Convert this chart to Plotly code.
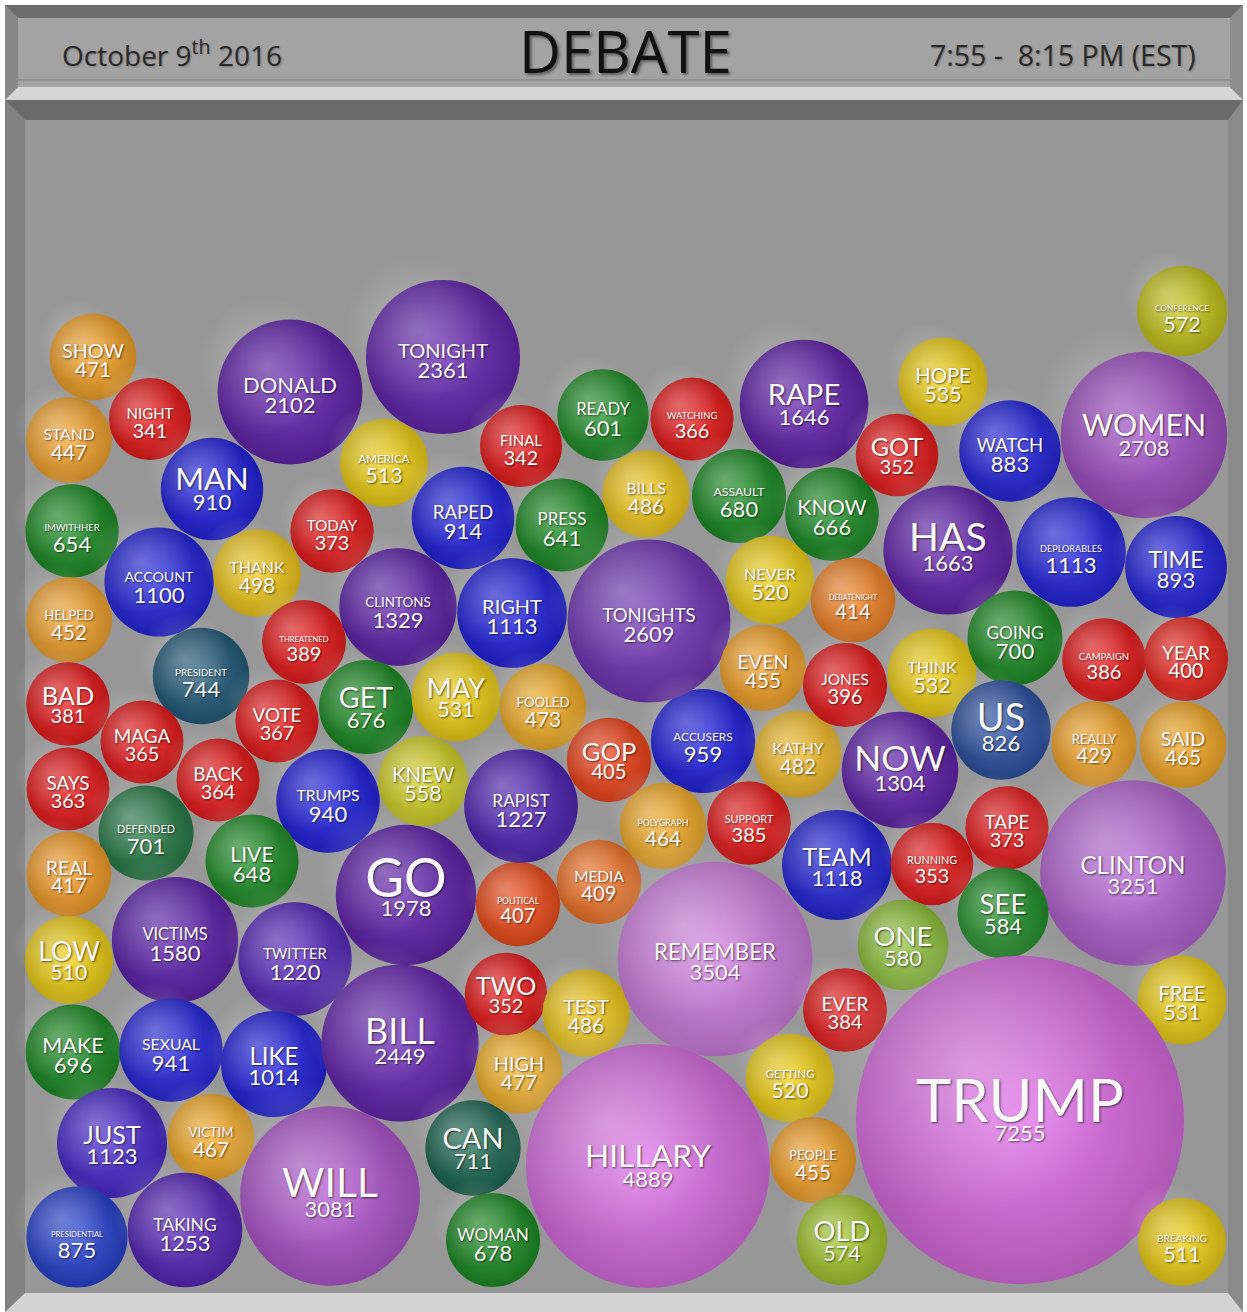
import plotly.graph_objects as go

# ---------------- data ----------------
words = ["SHOW", "STAND", "NIGHT", "IMWITHHER", "MAN", "DONALD", "TONIGHT", "AMERICA", "ACCOUNT", "THANK",
         "TODAY", "HELPED", "CLINTONS", "THREATENED", "PRESIDENT", "BAD", "MAGA", "VOTE", "GET", "SAYS",
         "BACK", "TRUMPS", "DEFENDED", "REAL", "LIVE", "VICTIMS", "TWITTER", "LOW", "GO", "KNEW",
         "MAY", "MAKE", "SEXUAL", "LIKE", "BILL", "JUST", "VICTIM", "WILL", "PRESIDENTIAL", "TAKING",
         "CAN", "WOMAN", "HIGH", "TWO", "TEST", "POLITICAL", "MEDIA", "RAPIST", "GOP", "FOOLED",
         "ACCUSERS", "POLYGRAPH", "SUPPORT", "KATHY", "REMEMBER", "TEAM", "EVER", "TONIGHTS", "RIGHT", "RAPED",
         "PRESS", "FINAL", "READY", "WATCHING", "BILLS", "ASSAULT", "NEVER", "EVEN", "RAPE", "KNOW",
         "GOT", "HOPE", "WATCH", "WOMEN", "CONFERENCE", "HAS", "DEPLORABLES", "TIME", "DEBATENIGHT", "JONES",
         "THINK", "GOING", "CAMPAIGN", "YEAR", "US", "REALLY", "SAID", "NOW", "TAPE", "RUNNING",
         "CLINTON", "SEE", "ONE", "FREE", "TRUMP", "GETTING", "PEOPLE", "OLD", "BREAKING", "HILLARY"]
counts = [471, 447, 341, 654, 910, 2102, 2361, 513, 1100, 498,
          373, 452, 1329, 389, 744, 381, 365, 367, 676, 363,
          364, 940, 701, 417, 648, 1580, 1220, 510, 1978, 558,
          531, 696, 941, 1014, 2449, 1123, 467, 3081, 875, 1253,
          711, 678, 477, 352, 486, 407, 409, 1227, 405, 473,
          959, 464, 385, 482, 3504, 1118, 384, 2609, 1113, 914,
          641, 342, 601, 366, 486, 680, 520, 455, 1646, 666,
          352, 535, 883, 2708, 572, 1663, 1113, 893, 414, 396,
          532, 700, 386, 400, 826, 429, 465, 1304, 373, 353,
          3251, 584, 580, 531, 7255, 520, 455, 574, 511, 4889]

# ---------------- layout of the packed bubbles (centres, px) ----------------
cx = [93, 69, 150, 72, 212, 290, 443, 384, 159, 257,
      332, 69, 398, 304, 201, 68, 142, 277, 366, 68,
      218, 328, 146, 69, 252, 175, 295, 69, 406, 423,
      456, 73, 171, 274, 400, 112, 211, 330, 77, 185,
      473, 493, 519, 506, 586, 518, 599, 521, 609, 543,
      703, 663, 749, 798, 715, 837, 845, 649, 512, 463,
      562, 521, 603, 692, 646, 739, 770, 763, 804, 832,
      897, 943, 1010, 1144, 1182, 948, 1071, 1176, 853, 845,
      932, 1015, 1104, 1186, 1001, 1094, 1183, 900, 1007, 932,
      1133, 1003, 903, 1182, 1020, 790, 813, 842, 1182, 648]
cy = [357, 440, 419, 531, 489, 392, 357, 463, 582, 573,
      531, 620, 607, 642, 676, 704, 742, 721, 707, 789,
      780, 801, 833, 874, 861, 940, 959, 960, 895, 781,
      697, 1052, 1050, 1064, 1043, 1143, 1137, 1196, 1237, 1230,
      1148, 1240, 1070, 994, 1013, 904, 882, 806, 760, 707,
      741, 826, 823, 754, 959, 865, 1010, 621, 613, 518,
      525, 446, 415, 419, 494, 496, 580, 668, 404, 514,
      455, 382, 451, 435, 311, 550, 552, 567, 600, 685,
      673, 638, 660, 659, 730, 744, 745, 770, 828, 864,
      873, 913, 945, 1000, 1120, 1078, 1160, 1240, 1242, 1166]

# ---------------- styles ----------------
colors = ["#f7a62a", "#f7a832", "#ec1e1e", "#1f8f26", "#2424e2", "#6425b0", "#6628b2", "#f4d418", "#2828e0", "#f5cc20",
          "#ec1e1e", "#f7a832", "#6226ae", "#ec1e1e", "#255e7e", "#ec1e1e", "#ec1e1e", "#ec1e1e", "#1f8f26", "#ec1e1e",
          "#ec1e1e", "#2424e2", "#2a7f4a", "#f7a02c", "#22922a", "#6025b0", "#5a2cc0", "#f4d418", "#6425b0", "#d8d62a",
          "#f4d418", "#1f8f26", "#2a2ae2", "#2424e2", "#6828b4", "#4a2cd0", "#f7ae2a", "#b45ad2", "#2a45d2", "#5a28bc",
          "#1f6b55", "#1f8f26", "#f7b52a", "#ec1e1e", "#f5cc1e", "#f2501e", "#f5772a", "#5228b8", "#f2461e", "#f7b22c",
          "#2424e2", "#f7b02c", "#ec1e1e", "#f6bf2e", "#d382e4", "#2828de", "#ec1e1e", "#7538ba", "#2424e2", "#2424e2",
          "#1f8f26", "#ec1e1e", "#22922a", "#ec1e1e", "#f5cc1e", "#1f8f26", "#f5d41a", "#f7a52a", "#6425b0", "#1f8f26",
          "#ec1e1e", "#f4d418", "#2626e0", "#a452c8", "#cac81e", "#6425b0", "#2626e2", "#2626e2", "#f5862a", "#ec1e1e",
          "#f5d41a", "#1f8f26", "#ec1e1e", "#f02a22", "#2f55a5", "#f7a82a", "#f7ac2a", "#6425b0", "#ec1e1e", "#ec1e1e",
          "#b868d8", "#22922a", "#8fc33a", "#f4d418", "#e070e8", "#f5d41a", "#f7a42a", "#a7cb32", "#f4d418", "#de72e8"]


def hex_rgb(h):
    h = h.lstrip("#")
    return tuple(int(h[i:i + 2], 16) for i in (0, 2, 4))


def mix(h, target, t):
    r, g, b = hex_rgb(h)
    tr, tg, tb = target
    return "rgb(%d,%d,%d)" % (round(r + (tr - r) * t), round(g + (tg - g) * t), round(b + (tb - b) * t))


edge_cols = [mix(c, (0, 0, 0), 0.22) for c in colors]
center_cols = [mix(c, (255, 255, 255), 0.12) for c in colors]

# bubble diameter from count (linear radius scale)
diam = [2 * (35 + 0.0178 * c) for c in counts]
rad = [d / 2 for d in diam]

fig = go.Figure()

# bubbles
fig.add_trace(go.Scatter(
    x=cx, y=cy, mode="markers", hoverinfo="skip",
    marker=dict(size=diam, sizemode="diameter", color=edge_cols, opacity=1,
                line=dict(width=0),
                gradient=dict(type="radial", color=center_cols)),
))

# highlight sheen (top-left)
hx = [x - 0.33 * r for x, r in zip(cx, rad)]
hy = [y - 0.36 * r for y, r in zip(cy, rad)]
fig.add_trace(go.Scatter(
    x=hx, y=hy, mode="markers", hoverinfo="skip",
    marker=dict(size=[0.95 * d for d in diam], color="rgba(255,255,255,0)",
                line=dict(width=0),
                gradient=dict(type="radial", color="rgba(255,255,255,0.42)")),
))

# labels
wfont, nfont, wy, ny = [], [], [], []
for w, d, y in zip(words, diam, cy):
    wf = min(0.38 * d, 0.62 * d / (0.68 * len(w)))
    nf = min(22.0, 0.24 * d)
    wfont.append(wf)
    nfont.append(nf)
    wy.append(y - 0.22 * wf)
    ny.append(y + 0.7 * nf)

shadow = "1px 1px 2px rgba(0,0,0,0.6)"
fig.add_trace(go.Scatter(
    x=cx, y=wy, mode="text", text=words, hoverinfo="skip",
    textposition="middle center",
    textfont=dict(family="Lato", size=wfont, color="#f8f8f8", shadow=shadow),
))
fig.add_trace(go.Scatter(
    x=cx, y=ny, mode="text", text=[str(c) for c in counts], hoverinfo="skip",
    textposition="middle center",
    textfont=dict(family="Lato", size=nfont, color="#f8f8f8", shadow=shadow),
))

# ---------------- frame ----------------
shapes = []


def path(p, col):
    shapes.append(dict(type="path", path=p, xref="x", yref="y", fillcolor=col,
                       line=dict(width=0), layer="below"))


def rect(x0, y0, x1, y1, col):
    shapes.append(dict(type="rect", x0=x0, y0=y0, x1=x1, y1=y1, xref="x", yref="y",
                       fillcolor=col, line=dict(width=0), layer="below"))


rect(5, 5, 1243, 1312, "#7e7e7e")
path("M5,5 L1243,5 L1230,18 L18,18 Z", "#6d6d6d")
rect(18, 18, 1230, 87, "#a3a3a3")
rect(18, 79, 1230, 81, "#909090")
path("M5,5 L18,18 L18,87 L5,100 Z", "#888888")
path("M1243,5 L1230,18 L1230,87 L1243,100 Z", "#8e8e8e")
path("M18,87 L1230,87 L1243,100 L5,100 Z", "#d6d6d6")
path("M5,100 L1243,100 L1228,120 L25,120 Z", "#6b6b6b")
path("M5,100 L25,120 L25,1293 L5,1312 Z", "#828282")
path("M1243,100 L1228,120 L1228,1293 L1243,1312 Z", "#8a8a8a")
path("M25,1293 L1228,1293 L1243,1312 L5,1312 Z", "#d4d4d4")
rect(25, 120, 1228, 1293, "#979797")

annotations = [
    dict(x=60, y=53, xref="x", yref="y", xanchor="left", yanchor="middle",
         text="October 9<sup>th</sup> 2016", showarrow=False,
         font=dict(family="Open Sans", size=28, color="#2a2a2a", shadow="1px 1px 2px rgba(0,0,0,0.25)")),
    dict(x=625, y=50, xref="x", yref="y", xanchor="center", yanchor="middle",
         text="DEBATE", showarrow=False,
         font=dict(family="Open Sans", size=58, color="#111111", shadow="2px 2px 3px rgba(0,0,0,0.45)")),
    dict(x=1198, y=55, xref="x", yref="y", xanchor="right", yanchor="middle",
         text="7:55 -&nbsp; 8:15 PM (EST)", showarrow=False,
         font=dict(family="Open Sans", size=28.5, color="#2a2a2a", shadow="1px 1px 2px rgba(0,0,0,0.25)")),
]

fig.update_layout(
    width=1247, height=1312,
    margin=dict(l=0, r=0, t=0, b=0),
    paper_bgcolor="#ffffff", plot_bgcolor="#ffffff",
    showlegend=False,
    xaxis=dict(range=[0, 1247], visible=False, fixedrange=True),
    yaxis=dict(range=[1312, 0], visible=False, fixedrange=True),
    shapes=shapes, annotations=annotations,
)

fig.write_html("out.html", config={"displayModeBar": False})
